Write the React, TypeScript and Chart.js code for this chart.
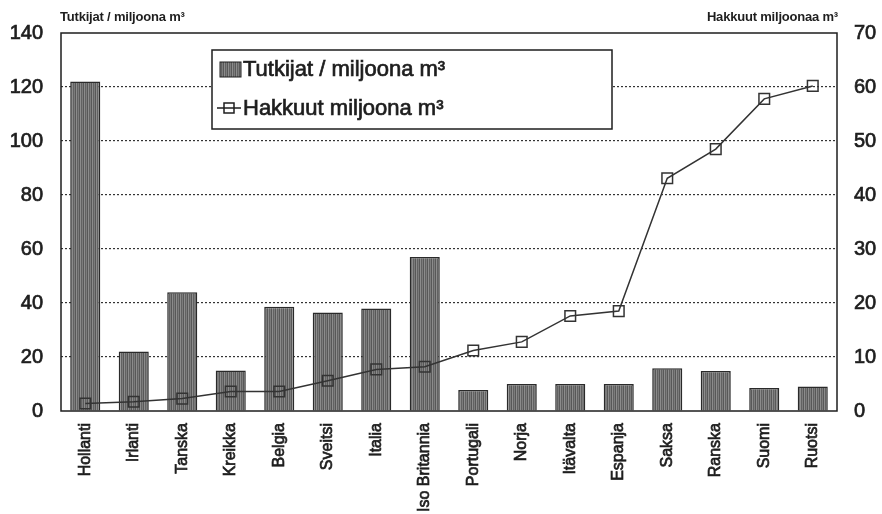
import React, { useEffect, useRef } from 'react';
import { Chart, registerables } from 'chart.js';

Chart.register(...registerables);

const countries = ['Hollanti', 'Irlanti', 'Tanska', 'Kreikka', 'Belgia', 'Sveitsi', 'Italia', 'Iso Britannia', 'Portugali', 'Norja', 'Itävalta', 'Espanja', 'Saksa', 'Ranska', 'Suomi', 'Ruotsi'];
const researchers = [122, 22, 44, 15, 38.6, 36.5, 38, 57, 7.8, 10, 10, 10, 15.8, 14.8, 8.5, 9.1];
const fellings = [1.4, 1.7, 2.3, 3.6, 3.6, 5.6, 7.7, 8.2, 11.2, 12.8, 17.6, 18.5, 43.1, 48.5, 57.8, 60.2];
const leftTicks = [0, 20, 40, 60, 80, 100, 120, 140];
const rightTicks = [0, 10, 20, 30, 40, 50, 60, 70];
const researchersLabel = 'Tutkijat / miljoona m³';
const fellingsLabel = 'Hakkuut miljoona m³';
const leftTitle = 'Tutkijat / miljoona m³';
const rightTitle = 'Hakkuut miljoonaa m³';

const FONT = '"Liberation Sans", Arial, sans-serif';
const INK = '#1e1e1e';

function makePattern(): CanvasPattern | string {
  const c = document.createElement('canvas');
  c.width = 4;
  c.height = 4;
  const g = c.getContext('2d');
  if (!g) return '#707070';
  const cols = ['#8c8c8c', '#626262', '#7c7c7c', '#585858'];
  cols.forEach((col, i) => {
    g.fillStyle = col;
    g.fillRect(i, 0, 1, 4);
  });
  return g.createPattern(c, 'repeat') || '#707070';
}

export default function App() {
  const ref = useRef<HTMLCanvasElement | null>(null);

  useEffect(() => {
    document.body.style.margin = '0';
    const canvas = ref.current;
    if (!canvas) return;
    const pattern = makePattern();

    const overlay = {
      id: 'overlay',
      afterDraw(chart: any) {
        const ctx = chart.ctx as CanvasRenderingContext2D;
        const a = chart.chartArea;
        ctx.save();
        // frame
        ctx.strokeStyle = INK;
        ctx.lineWidth = 1.5;
        ctx.setLineDash([]);
        ctx.strokeRect(a.left, a.top, a.right - a.left, a.bottom - a.top);

        // axis titles
        (ctx as any).letterSpacing = '-0.2px';
        ctx.fillStyle = INK;
        ctx.font = `bold 13px ${FONT}`;
        ctx.textBaseline = 'middle';
        ctx.textAlign = 'left';
        ctx.fillText(leftTitle, a.left - 1, 17);
        ctx.textAlign = 'right';
        ctx.fillText(rightTitle, a.right + 1, 17);

        // legend box
        const lx = 212, ly = 50, lw = 400, lh = 79;
        ctx.fillStyle = '#ffffff';
        ctx.fillRect(lx, ly, lw, lh);
        ctx.lineWidth = 1.5;
        ctx.strokeStyle = INK;
        ctx.strokeRect(lx, ly, lw, lh);

        // entry 1 swatch
        ctx.fillStyle = pattern as any;
        ctx.fillRect(220, 62, 21, 15);
        ctx.lineWidth = 1;
        ctx.strokeRect(220, 62, 21, 15);
        // entry 2 symbol
        ctx.lineWidth = 1.5;
        ctx.beginPath();
        ctx.moveTo(217, 108);
        ctx.lineTo(241, 108);
        ctx.stroke();
        ctx.strokeRect(224, 103, 10, 10);

        (ctx as any).letterSpacing = '0px';
        ctx.fillStyle = INK;
        ctx.strokeStyle = INK;
        ctx.lineWidth = 0.7;
        ctx.font = `22px ${FONT}`;
        ctx.textAlign = 'left';
        ctx.textBaseline = 'middle';
        ctx.fillText(researchersLabel, 243, 70);
        ctx.strokeText(researchersLabel, 243, 70);
        ctx.fillText(fellingsLabel, 243, 109);
        ctx.strokeText(fellingsLabel, 243, 109);
        ctx.restore();
      },
    };

    const tickFont = { family: FONT, size: 20 };

    const chart = new Chart(canvas, {
      type: 'bar',
      data: {
        labels: countries,
        datasets: [
          {
            type: 'line',
            label: fellingsLabel,
            data: fellings,
            yAxisID: 'y1',
            borderColor: '#333333',
            borderWidth: 1.5,
            pointStyle: 'rect',
            pointRadius: 7.5,
            pointBorderWidth: 1.5,
            pointBorderColor: '#333333',
            pointBackgroundColor: 'rgba(0,0,0,0)',
            backgroundColor: 'rgba(0,0,0,0)',
            tension: 0,
            order: 0,
          } as any,
          {
            type: 'bar',
            label: researchersLabel,
            data: researchers,
            yAxisID: 'y',
            backgroundColor: pattern as any,
            borderColor: '#2a2a2a',
            borderWidth: 1.5,
            categoryPercentage: 1,
            barPercentage: 0.62,
            order: 1,
          } as any,
        ],
      },
      options: {
        responsive: false,
        animation: false,
        devicePixelRatio: 1,
        layout: { padding: { top: 33, left: 0, right: 0, bottom: 0 } },
        plugins: {
          legend: { display: false },
          tooltip: { enabled: false },
          title: { display: false },
        },
        scales: {
          x: {
            type: 'category',
            offset: true,
            grid: { display: false, drawTicks: false },
            border: { display: false },
            ticks: {
              minRotation: 90,
              maxRotation: 90,
              autoSkip: false,
              padding: 12,
              color: INK,
              textStrokeColor: INK,
              textStrokeWidth: 0.7,
              font: { family: FONT, size: 16 },
            },
            afterFit: (s: any) => {
              s.height = 103;
            },
          },
          y: {
            position: 'left',
            min: leftTicks[0],
            max: leftTicks[leftTicks.length - 1],
            afterBuildTicks: (s: any) => {
              s.ticks = leftTicks.map((v) => ({ value: v }));
            },
            grid: {
              drawTicks: false,
              lineWidth: 1.2,
              color: (c: any) =>
                c.tick && (c.tick.value === leftTicks[0] || c.tick.value === leftTicks[leftTicks.length - 1])
                  ? 'rgba(0,0,0,0)'
                  : '#333333',
            },
            border: { display: false, dash: [2, 2] },
            ticks: {
              padding: 18,
              color: INK,
              textStrokeColor: INK,
              textStrokeWidth: 0.7,
              font: tickFont,
            },
            afterFit: (s: any) => {
              s.width = 61;
            },
          },
          y1: {
            position: 'right',
            min: rightTicks[0],
            max: rightTicks[rightTicks.length - 1],
            afterBuildTicks: (s: any) => {
              s.ticks = rightTicks.map((v) => ({ value: v }));
            },
            grid: { drawOnChartArea: false, drawTicks: false },
            border: { display: false },
            ticks: {
              padding: 17,
              color: INK,
              textStrokeColor: INK,
              textStrokeWidth: 0.7,
              font: tickFont,
            },
            afterFit: (s: any) => {
              s.width = 45;
            },
          },
        },
      },
      plugins: [overlay],
    });

    return () => {
      chart.destroy();
    };
  }, []);

  return (
    <div style={{ width: 882, height: 514, background: '#ffffff' }}>
      <canvas ref={ref} width={882} height={514} style={{ display: 'block' }} />
    </div>
  );
}
